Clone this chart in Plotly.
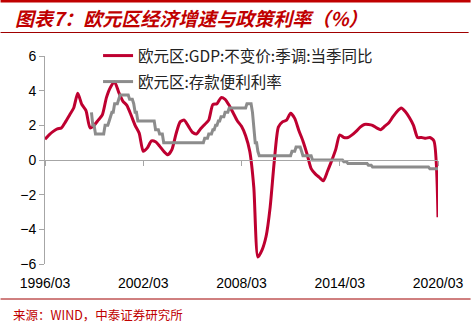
import pandas as pd
import plotly.graph_objects as go

# ---------------- data ----------------
# Euro area real GDP, SA, YoY (%), quarterly 1996/03 - 2020/03
gdp_yoy = [
    1.2, 1.45, 1.65, 1.8,            # 1996
    1.85, 2.2, 2.6, 3.0,             # 1997
    3.85, 3.2, 2.85, 1.85,           # 1998
    2.0, 2.3, 2.6, 3.6,              # 1999
    4.2, 4.5, 3.9, 3.4,              # 2000
    3.15, 2.6, 2.0, 1.55,            # 2001
    0.5, 0.7, 1.1, 1.05,             # 2002
    0.8, 0.5, 0.3, 0.6,              # 2003
    1.5, 2.2, 2.3, 1.95,             # 2004
    1.6, 1.5, 1.8, 2.05,             # 2005
    2.3, 3.2, 3.25, 3.6,             # 2006
    3.5, 3.15, 2.7, 2.25,            # 2007
    1.95, 1.4, 0.5, -1.6,            # 2008
    -5.6, -5.2, -4.4, -2.7,          # 2009
    -0.1, 1.9, 2.2, 2.3,             # 2010
    2.7, 2.4, 1.7, 1.1,              # 2011
    0.35, -0.5, -0.8, -1.0,          # 2012
    -1.2, -0.65, -0.05, 0.6,         # 2013
    1.45, 1.3, 1.3, 1.45,            # 2014
    1.65, 1.9, 2.05, 2.05,           # 2015
    2.0, 1.85, 1.75, 1.95,           # 2016
    2.15, 2.5, 2.8, 3.0,             # 2017
    2.8, 2.45, 2.0, 1.3,             # 2018
    1.3, 1.25, 1.3, 1.1,             # 2019
    -3.3,                            # 2020
]
gdp_dates = pd.date_range("1996-03-01", periods=len(gdp_yoy), freq="3MS")

# ECB deposit facility rate (%), monthly 1999/01 - 2020/03
deposit_rate = [
    2.75, 2.0, 2.0, 1.5, 1.5, 1.5, 1.5, 1.5, 1.5, 1.5, 2.0, 2.0,            # 1999
    2.0, 2.25, 2.5, 2.75, 2.75, 3.25, 3.25, 3.25, 3.5, 3.75, 3.75, 3.75,    # 2000
    3.75, 3.75, 3.75, 3.75, 3.5, 3.5, 3.5, 3.25, 2.75, 2.75, 2.25, 2.25,    # 2001
    2.25, 2.25, 2.25, 2.25, 2.25, 2.25, 2.25, 2.25, 2.25, 2.25, 2.25, 1.75, # 2002
    1.75, 1.75, 1.5, 1.5, 1.5, 1.0, 1.0, 1.0, 1.0, 1.0, 1.0, 1.0,           # 2003
    1.0, 1.0, 1.0, 1.0, 1.0, 1.0, 1.0, 1.0, 1.0, 1.0, 1.0, 1.0,             # 2004
    1.0, 1.0, 1.0, 1.0, 1.0, 1.0, 1.0, 1.0, 1.0, 1.0, 1.0, 1.25,            # 2005
    1.25, 1.25, 1.5, 1.5, 1.5, 1.75, 1.75, 2.0, 2.0, 2.25, 2.25, 2.5,       # 2006
    2.5, 2.5, 2.75, 2.75, 2.75, 3.0, 3.0, 3.0, 3.0, 3.0, 3.0, 3.0,          # 2007
    3.0, 3.0, 3.0, 3.0, 3.0, 3.0, 3.25, 3.25, 3.25, 3.25, 2.75, 2.0,        # 2008
    1.0, 1.0, 0.5, 0.25, 0.25, 0.25, 0.25, 0.25, 0.25, 0.25, 0.25, 0.25,    # 2009
    0.25, 0.25, 0.25, 0.25, 0.25, 0.25, 0.25, 0.25, 0.25, 0.25, 0.25, 0.25, # 2010
    0.25, 0.25, 0.25, 0.5, 0.5, 0.5, 0.75, 0.75, 0.75, 0.75, 0.5, 0.25,     # 2011
    0.25, 0.25, 0.25, 0.25, 0.25, 0.25, 0.0, 0.0, 0.0, 0.0, 0.0, 0.0,       # 2012
    0.0, 0.0, 0.0, 0.0, 0.0, 0.0, 0.0, 0.0, 0.0, 0.0, 0.0, 0.0,             # 2013
    0.0, 0.0, 0.0, 0.0, 0.0, -0.1, -0.1, -0.1, -0.2, -0.2, -0.2, -0.2,      # 2014
    -0.2, -0.2, -0.2, -0.2, -0.2, -0.2, -0.2, -0.2, -0.2, -0.2, -0.2, -0.3, # 2015
    -0.3, -0.3, -0.4, -0.4, -0.4, -0.4, -0.4, -0.4, -0.4, -0.4, -0.4, -0.4, # 2016
    -0.4, -0.4, -0.4, -0.4, -0.4, -0.4, -0.4, -0.4, -0.4, -0.4, -0.4, -0.4, # 2017
    -0.4, -0.4, -0.4, -0.4, -0.4, -0.4, -0.4, -0.4, -0.4, -0.4, -0.4, -0.4, # 2018
    -0.4, -0.4, -0.4, -0.4, -0.4, -0.4, -0.4, -0.4, -0.5, -0.5, -0.5, -0.5, # 2019
    -0.5, -0.5, -0.5,                                                       # 2020
]
deposit_dates = pd.date_range("1999-01-01", periods=len(deposit_rate), freq="MS")

tick_dates = ["1996-03-01", "2002-03-01", "2008-03-01", "2014-03-01", "2020-03-01"]
tick_labels = ["1996/03", "2002/03", "2008/03", "2014/03", "2020/03"]
y_ticks = [-6, -4, -2, 0, 2, 4, 6]

name_gdp = "欧元区:GDP:不变价:季调:当季同比"
name_rate = "欧元区:存款便利利率"
title_text = "图表7：欧元区经济增速与政策利率（%）"
source_text = "来源：WIND，中泰证券研究所"

# ---------------- styles ----------------
RED = "#BE0030"
GRAY = "#8C8C8C"
AXIS = "#A6A6A6"
DARKRED = "#C00000"
W, H = 476, 327
ML, MR, MT, MB = 45, 33, 56, 63
PW, PH = W - ML - MR, H - MT - MB

fig = go.Figure()
fig.add_trace(go.Scatter(
    x=gdp_dates, y=gdp_yoy, name=name_gdp, mode="lines",
    line=dict(color=RED, width=3, shape="spline", smoothing=0.6),
    legend="legend", xaxis="x", yaxis="y", showlegend=True,
))
fig.add_trace(go.Scatter(
    x=deposit_dates, y=deposit_rate, name=name_rate, mode="lines",
    line=dict(color=GRAY, width=3),
    legend="legend2", xaxis="x2", yaxis="y", showlegend=True,
))

xr = [tick_dates[0], tick_dates[-1]]
fig.update_layout(
    width=W, height=H,
    showlegend=True,
    margin=dict(l=ML, r=MR, t=MT, b=MB),
    paper_bgcolor="white", plot_bgcolor="white",
    font=dict(family="Liberation Sans, Arial, sans-serif", color="black", size=14),
    xaxis=dict(
        type="date", range=xr, tickvals=tick_dates, ticktext=tick_labels,
        showgrid=False, zeroline=False, showline=False,
        ticks="outside", ticklen=6, tickcolor="rgba(0,0,0,0)",
        tickfont=dict(size=14, family="Liberation Sans, Arial, sans-serif"),
    ),
    xaxis2=dict(
        type="date", matches="x", overlaying="x", anchor="free", position=0.5,
        tickvals=tick_dates, showticklabels=False, showgrid=False, zeroline=False,
        showline=True, linecolor=AXIS, linewidth=1,
        ticks="outside", ticklen=5, tickcolor=AXIS, tickwidth=1,
    ),
    yaxis=dict(
        range=[-6, 6], tickvals=y_ticks, showgrid=False, zeroline=False,
        showline=True, linecolor=AXIS, linewidth=1,
        ticks="outside", ticklen=5, tickcolor=AXIS,
        tickfont=dict(size=14, family="Liberation Sans, Arial, sans-serif"),
    ),
    legend=dict(
        x=0.135, y=1.0, xanchor="left", yanchor="middle",
        bgcolor="rgba(0,0,0,0)", borderwidth=0, visible=True,
        font=dict(size=15.5, family="Noto Sans CJK SC", color="#222"),
    ),
    legend2=dict(
        x=0.135, y=0.875, xanchor="left", yanchor="middle",
        bgcolor="rgba(0,0,0,0)", borderwidth=0, visible=True,
        font=dict(size=15.5, family="Noto Sans CJK SC", color="#222"),
    ),
)

# decorations (paper coordinates)
def px_x(p):
    return (p - ML) / PW

def px_y(p):
    return (H - MB - p) / PH

fig.add_shape(type="rect", xref="paper", yref="paper",
              x0=px_x(0), x1=px_x(W), y0=px_y(0), y1=px_y(2.5),
              fillcolor=DARKRED, line_width=0, layer="above")
fig.add_shape(type="line", xref="paper", yref="paper",
              x0=px_x(0), x1=px_x(474), y0=px_y(32.5), y1=px_y(32.5),
              line=dict(color="#A00000", width=1))
fig.add_shape(type="line", xref="paper", yref="paper",
              x0=px_x(0), x1=px_x(W), y0=px_y(299), y1=px_y(299),
              line=dict(color="#A00000", width=1))
fig.add_annotation(xref="paper", yref="paper", x=px_x(13), y=px_y(17),
                   xanchor="left", yanchor="middle", showarrow=False,
                   text="<b><i>" + title_text + "</i></b>",
                   font=dict(family="Noto Sans CJK SC", size=19, color=DARKRED))
fig.add_annotation(xref="paper", yref="paper", x=px_x(11), y=px_y(314),
                   xanchor="left", yanchor="middle", showarrow=False,
                   text=source_text,
                   font=dict(family="Noto Sans CJK SC", size=12.5, color="#C00000"))

fig.write_html("out.html")
